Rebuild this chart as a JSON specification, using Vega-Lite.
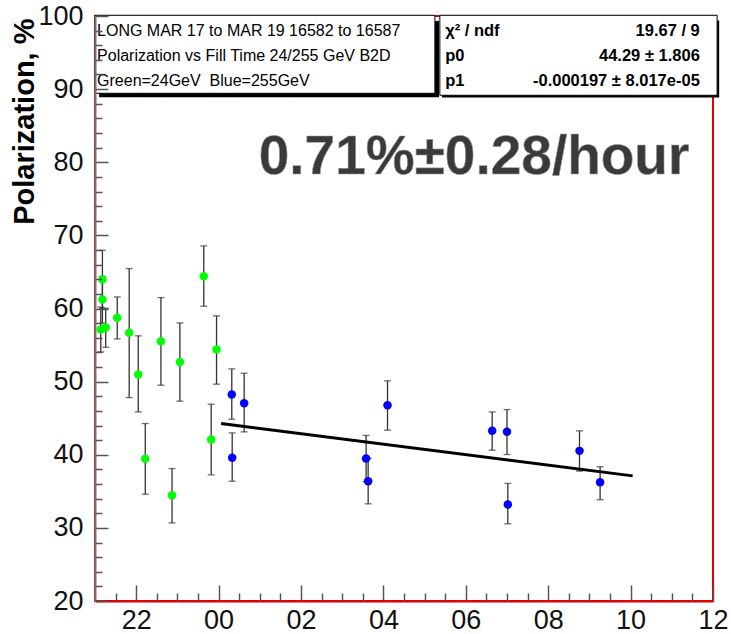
{
  "$schema": "https://vega.github.io/schema/vega-lite/v6.json",
  "width": 618,
  "height": 585,
  "autosize": {"type": "none"},
  "padding": {"left": 95, "top": 16, "right": 18, "bottom": 33},
  "background": "white",
  "config": {"view": {"stroke": "#e00000", "strokeWidth": 2}, "font": "Liberation Sans"},
  "resolve": {"axis": {"x": "independent", "y": "independent"}},
  "datasets": {
    "pts": [
      {"t": 21.18, "p": 63.96, "lo": 60.0, "hi": 67.97, "beam": "24"},
      {"t": 21.18, "p": 61.22, "lo": 58.0, "hi": 64.4, "beam": "24"},
      {"t": 21.14, "p": 57.12, "lo": 54.06, "hi": 60.2, "beam": "24"},
      {"t": 21.26, "p": 57.39, "lo": 54.7, "hi": 60.04, "beam": "24"},
      {"t": 21.54, "p": 58.72, "lo": 55.84, "hi": 61.58, "beam": "24"},
      {"t": 21.83, "p": 56.67, "lo": 47.82, "hi": 65.46, "beam": "24"},
      {"t": 22.05, "p": 50.97, "lo": 45.86, "hi": 56.26, "beam": "24"},
      {"t": 22.22, "p": 39.44, "lo": 34.61, "hi": 44.27, "beam": "24"},
      {"t": 22.6, "p": 55.53, "lo": 49.51, "hi": 61.49, "beam": "24"},
      {"t": 22.87, "p": 34.47, "lo": 30.68, "hi": 38.11, "beam": "24"},
      {"t": 23.06, "p": 52.7, "lo": 47.33, "hi": 58.03, "beam": "24"},
      {"t": 23.64, "p": 64.41, "lo": 60.31, "hi": 68.56, "beam": "24"},
      {"t": 23.95, "p": 54.39, "lo": 49.65, "hi": 58.99, "beam": "24"},
      {"t": 23.82, "p": 42.08, "lo": 37.25, "hi": 46.91, "beam": "24"},
      {"t": 24.32, "p": 48.23, "lo": 44.86, "hi": 51.74, "beam": "255"},
      {"t": 24.62, "p": 47.05, "lo": 43.13, "hi": 51.15, "beam": "255"},
      {"t": 24.33, "p": 39.58, "lo": 36.38, "hi": 42.99, "beam": "255"},
      {"t": 27.58, "p": 39.48, "lo": 36.33, "hi": 42.64, "beam": "255"},
      {"t": 27.63, "p": 36.38, "lo": 33.29, "hi": 39.5, "beam": "255"},
      {"t": 28.1, "p": 46.78, "lo": 43.36, "hi": 50.11, "beam": "255"},
      {"t": 30.64, "p": 43.27, "lo": 40.62, "hi": 45.86, "beam": "255"},
      {"t": 31.0, "p": 43.13, "lo": 40.03, "hi": 46.18, "beam": "255"},
      {"t": 31.02, "p": 33.2, "lo": 30.56, "hi": 36.08, "beam": "255"},
      {"t": 32.76, "p": 40.53, "lo": 37.76, "hi": 43.27, "beam": "255"},
      {"t": 33.26, "p": 36.25, "lo": 33.85, "hi": 38.36, "beam": "255"}
    ],
    "fit": [
      {"t": 24.06, "p": 44.27},
      {"t": 34.05, "p": 37.11}
    ],
    "boxes": [
      {"t": 21.0, "t2": 29.25, "p": 100.1, "p2": 89.43, "box": "left"},
      {"t": 29.37, "t2": 36.1, "p": 100.1, "p2": 89.16, "box": "right"}
    ],
    "shadows": [
      {"t": 21.1, "t2": 29.35, "p": 99.3, "p2": 88.9, "box": "left"},
      {"t": 29.42, "t2": 36.15, "p": 99.4, "p2": 88.86, "box": "right"}
    ],
    "notes": [
      {"t": 21.05, "p": 97.95, "label": "LONG MAR 17 to MAR 19 16582 to 16587"},
      {"t": 21.05, "p": 94.53, "label": "Polarization vs Fill Time 24/255 GeV B2D"},
      {"t": 21.05, "p": 91.1, "label": "Green=24GeV\u00a0 Blue=255GeV"}
    ],
    "statnames": [
      {"t": 29.5, "p": 97.95, "label": "χ² / ndf"},
      {"t": 29.5, "p": 94.53, "label": "p0"},
      {"t": 29.5, "p": 91.1, "label": "p1"}
    ],
    "statvalues": [
      {"t": 35.68, "p": 97.95, "label": "19.67 / 9"},
      {"t": 35.68, "p": 94.53, "label": "44.29 ± 1.806"},
      {"t": 35.68, "p": 91.1, "label": "-0.000197 ± 8.017e-05"}
    ],
    "big": [
      {"t": 30.2, "p": 80.68, "label": "0.71%±0.28/hour"}
    ]
  },
  "layer": [
    {
      "data": {"name": "pts"},
      "mark": {"type": "rule", "color": "#333333", "strokeWidth": 1.3},
      "encoding": {
        "x": {
          "field": "t", "type": "quantitative",
          "scale": {"domain": [21, 36], "nice": false, "zero": false},
          "axis": {
            "orient": "bottom",
            "title": null,
            "values": [22, 24, 26, 28, 30, 32, 34, 36],
            "labelExpr": "pad(toString(datum.value % 24), 2, '0', 'left')",
            "tickSize": -16,
            "tickColor": "#555555",
            "tickWidth": 1.5,
            "domainColor": "#e00000",
            "domainWidth": 2,
            "labelFont": "Liberation Sans",
            "labelFontSize": 27,
            "labelColor": "#111111",
            "labelPadding": 22,
            "labelFlush": false,
            "labelOverlap": false,
            "grid": false,
            "zindex": 1
          }
        },
        "y": {
          "field": "lo", "type": "quantitative",
          "scale": {"domain": [20, 100], "nice": false, "zero": false},
          "axis": {
            "orient": "left",
            "title": "Polarization, %",
            "titleFont": "Liberation Sans",
            "titleFontWeight": "bold",
            "titleFontSize": 29,
            "titleColor": "#000000",
            "titleAngle": 270,
            "titleAlign": "right",
            "titleBaseline": "alphabetic",
            "titleX": -62,
            "titleY": 2,
            "values": [20, 30, 40, 50, 60, 70, 80, 90, 100],
            "tickSize": -13,
            "tickColor": "#555555",
            "tickWidth": 1.5,
            "domainColor": "#777777",
            "domainWidth": 2,
            "labelFont": "Liberation Sans",
            "labelFontSize": 27,
            "labelColor": "#111111",
            "labelPadding": 25,
            "labelFlush": false,
            "labelOverlap": false,
            "grid": false,
            "zindex": 1
          }
        },
        "y2": {"field": "hi"}
      }
    },
    {
      "data": {"name": "pts"},
      "mark": {"type": "tick", "orient": "horizontal", "color": "#333333", "size": 7, "thickness": 1.3},
      "encoding": {
        "x": {
          "field": "t", "type": "quantitative",
          "axis": {
            "orient": "bottom",
            "title": null,
            "values": [21.5, 22.5, 23, 23.5, 24.5, 25, 25.5, 26.5, 27, 27.5, 28.5, 29, 29.5, 30.5, 31, 31.5, 32.5, 33, 33.5, 34.5, 35, 35.5],
            "labels": false,
            "domain": false,
            "tickSize": -8,
            "tickColor": "#555555",
            "tickWidth": 1.5,
            "grid": false,
            "zindex": 1
          }
        },
        "y": {
          "field": "hi", "type": "quantitative",
          "axis": {
            "orient": "left",
            "title": null,
            "values": [22, 24, 26, 28, 32, 34, 36, 38, 42, 44, 46, 48, 52, 54, 56, 58, 62, 64, 66, 68, 72, 74, 76, 78, 82, 84, 86, 88, 92, 94, 96, 98],
            "labels": false,
            "domain": false,
            "tickSize": -7,
            "tickColor": "#555555",
            "tickWidth": 1.5,
            "grid": false,
            "zindex": 1
          }
        }
      }
    },
    {
      "data": {"name": "pts"},
      "mark": {"type": "tick", "orient": "horizontal", "color": "#333333", "size": 7, "thickness": 1.3},
      "encoding": {
        "x": {"field": "t", "type": "quantitative", "axis": null},
        "y": {"field": "lo", "type": "quantitative", "axis": null}
      }
    },
    {
      "data": {"name": "fit"},
      "mark": {"type": "line", "color": "#000000", "strokeWidth": 3},
      "encoding": {
        "x": {"field": "t", "type": "quantitative", "axis": null},
        "y": {"field": "p", "type": "quantitative", "axis": null}
      }
    },
    {
      "data": {"name": "pts"},
      "mark": {"type": "circle", "size": 72, "opacity": 1},
      "encoding": {
        "x": {"field": "t", "type": "quantitative", "axis": null},
        "y": {"field": "p", "type": "quantitative", "axis": null},
        "color": {"field": "beam", "type": "nominal", "scale": {"domain": ["24", "255"], "range": ["#00ff00", "#0000ff"]}, "legend": null}
      }
    },
    {
      "data": {"name": "shadows"},
      "mark": {"type": "rect", "color": "#000000", "clip": false},
      "encoding": {
        "x": {"field": "t", "type": "quantitative", "axis": null},
        "x2": {"field": "t2"},
        "y": {"field": "p", "type": "quantitative", "axis": null},
        "y2": {"field": "p2"}
      }
    },
    {
      "data": {"name": "boxes"},
      "mark": {"type": "rect", "fill": "#ffffff", "stroke": "#000000", "strokeWidth": 1, "clip": false},
      "encoding": {
        "x": {"field": "t", "type": "quantitative", "axis": null},
        "x2": {"field": "t2"},
        "y": {"field": "p", "type": "quantitative", "axis": null},
        "y2": {"field": "p2"}
      }
    },
    {
      "data": {"name": "notes"},
      "mark": {"type": "text", "align": "left", "baseline": "middle", "font": "Liberation Sans", "fontSize": 16, "color": "#000000"},
      "encoding": {
        "x": {"field": "t", "type": "quantitative", "axis": null},
        "y": {"field": "p", "type": "quantitative", "axis": null},
        "text": {"field": "label"}
      }
    },
    {
      "data": {"name": "statnames"},
      "mark": {"type": "text", "align": "left", "baseline": "middle", "font": "Liberation Sans", "fontWeight": "bold", "fontSize": 16.5, "color": "#000000"},
      "encoding": {
        "x": {"field": "t", "type": "quantitative", "axis": null},
        "y": {"field": "p", "type": "quantitative", "axis": null},
        "text": {"field": "label"}
      }
    },
    {
      "data": {"name": "statvalues"},
      "mark": {"type": "text", "align": "right", "baseline": "middle", "font": "Liberation Sans", "fontWeight": "bold", "fontSize": 16.5, "color": "#000000"},
      "encoding": {
        "x": {"field": "t", "type": "quantitative", "axis": null},
        "y": {"field": "p", "type": "quantitative", "axis": null},
        "text": {"field": "label"}
      }
    },
    {
      "data": {"name": "big"},
      "mark": {"type": "text", "align": "center", "baseline": "middle", "font": "Liberation Sans", "fontWeight": "bold", "fontSize": 55, "color": "#3a3a3a", "stroke": "#9a9a9a", "strokeWidth": 0.6},
      "encoding": {
        "x": {"field": "t", "type": "quantitative", "axis": null},
        "y": {"field": "p", "type": "quantitative", "axis": null},
        "text": {"field": "label"}
      }
    }
  ]
}
